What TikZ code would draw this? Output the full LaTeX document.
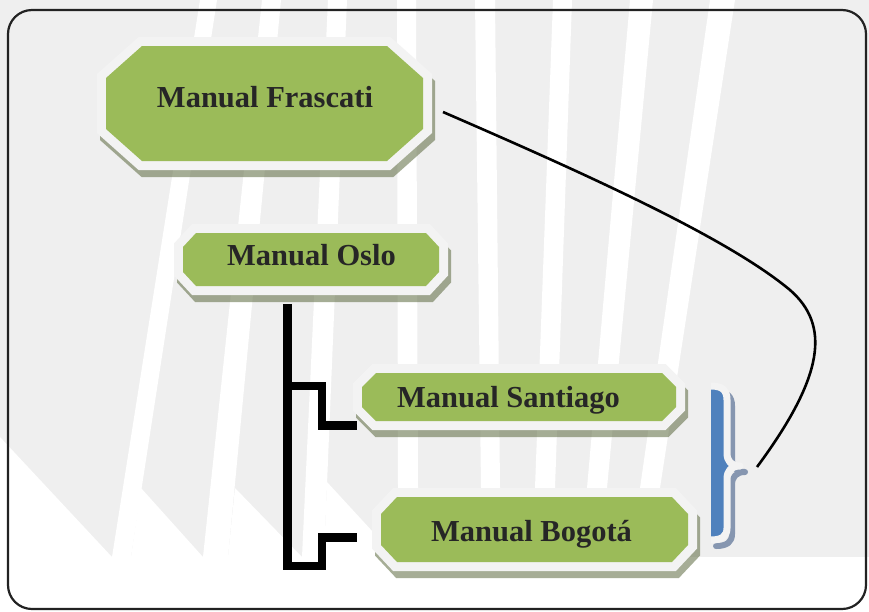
\documentclass[tikz,border=0pt]{standalone}
\usepackage{fontspec}
\setmainfont{Liberation Serif}
\usetikzlibrary{calc}

\definecolor{bggray}{HTML}{EFEFEF}
\definecolor{boxgreen}{HTML}{9BBB59}
\definecolor{boxrim}{HTML}{F3F3F3}
\definecolor{boxshade}{RGB}{92,106,63}
\definecolor{framecol}{HTML}{222222}
\definecolor{bracefill}{HTML}{4F81BD}
\definecolor{braceshade}{HTML}{8696B0}
\definecolor{labelcol}{HTML}{262626}

% octagon: centre x, centre y, half width, half height, chamfer x, chamfer y
\newcommand\octagon[6]{({#1-#3+#5},{#2-#4}) -- ({#1+#3-#5},{#2-#4}) -- ({#1+#3},{#2-#4+#6}) -- ({#1+#3},{#2+#4-#6}) -- ({#1+#3-#5},{#2+#4}) -- ({#1-#3+#5},{#2+#4}) -- ({#1-#3},{#2+#4-#6}) -- ({#1-#3},{#2-#4+#6}) -- cycle}

% one chamfered box: shadow, light rim, green face
\newcommand\chambox[6]{%
  \path[boxshadow] \octagon{#1}{#2}{#3}{#4}{#5}{#6};
  \path[boxrimstyle] \octagon{#1}{#2}{#3}{#4}{#5}{#6};
  \path[fill=boxgreen] \octagon{#1}{#2}{#3}{#4}{#5}{#6};
}

% right brace outline
\newcommand\bracepath{(711,386) .. controls (722,386) and (727,390) .. (727,400) -- (727,453) .. controls (727,461) and (731,466) .. (740,466) .. controls (731,466) and (727,471) .. (727,479) -- (727,528) .. controls (727,536) and (722,540) .. (711,540)}

\tikzset{
  boxshadow/.style={draw=boxshade, draw opacity=.55, line width=18pt, line join=miter,
    transform canvas={xshift=3pt,yshift=-7pt}},
  boxrimstyle/.style={draw=boxrim, fill=boxrim, line width=18pt, line join=miter},
  boxlabel/.style={font=\fontsize{30.5}{35}\selectfont\bfseries, text=labelcol,
    inner sep=0pt, text height=20pt, text depth=0pt},
  elbow/.style={draw=black, line width=8.5pt, line join=miter, line cap=butt},
  link/.style={draw=black, line width=2.6pt},
  framestyle/.style={draw=framecol, line width=2.2pt, rounded corners=24pt},
}

\begin{document}
\begin{tikzpicture}[x=1pt,y=-1pt]
\useasboundingbox (0,0) rectangle (869,611);

% backdrop: grey field with light slanted bands and a saw-tooth lower edge
\fill[bggray] (0,0) rectangle (869,557);
\fill[white] (200,0) -- (217,0) -- (131,557) -- (112,557) -- cycle;
\fill[white] (262,0) -- (281,0) -- (228,557) -- (203,557) -- cycle;
\fill[white] (328,0) -- (347,0) -- (324,557) -- (302,557) -- cycle;
\fill[white] (397,0) -- (416,0) -- (418,488) -- (398,488) -- cycle;
\fill[white] (475,0) -- (495,0) -- (500,488) -- (481,488) -- cycle;
\fill[white] (553,0) -- (572,0) -- (555,488) -- (535,488) -- cycle;
\fill[white] (630,0) -- (653,0) -- (607,488) -- (587,488) -- cycle;
\fill[white] (710,0) -- (735,0) -- (660,488) -- (640,488) -- cycle;
\fill[white] (0,437) -- (112,557) -- (0,557) -- cycle;
\fill[white] (141,488) -- (203,557) -- (131,557) -- cycle;
\fill[white] (235,488) -- (302,557) -- (228,557) -- cycle;
\fill[white] (327,482) -- (396,557) -- (324,557) -- cycle;

% outer frame
\draw[framestyle] (8,10) rectangle (866,609);

% boxes
\chambox{264.5}{103.5}{158.5}{57.5}{36}{32}
\chambox{311}{259.5}{128}{26.5}{13}{14}
\chambox{519}{397}{157}{24}{14}{14}
\chambox{534.5}{529.5}{153.5}{32.5}{16}{17}

\node[boxlabel] (frascati) at (265,97)   {Manual Frascati};
\node[boxlabel] (oslo)     at (311.5,255) {Manual Oslo};
\node[boxlabel] (santiago) at (508.5,397) {Manual Santiago};
\node[boxlabel] (bogota)   at (531.5,531) {Manual Bogotá};

% elbow connectors from Oslo
\coordinate (osloOut) at ($(oslo)+(-24,49)$);
\coordinate (santJoint) at (322,386);
\coordinate (santIn) at (357,425.5);
\coordinate (bogJoint) at (322,566);
\coordinate (bogIn) at (357,537.5);
\draw[elbow] (osloOut) |- (santJoint) |- (santIn);
\draw[elbow] (osloOut) |- (bogJoint) |- (bogIn);

% brace grouping Santiago and Bogota
\draw[braceshade, line width=6pt, line cap=round, line join=round,
      transform canvas={xshift=5pt,yshift=-6pt}] \bracepath;
\fill[bracefill] \bracepath -- cycle;
\draw[boxrim, line width=7pt, line cap=butt, line join=round] \bracepath;
\coordinate (braceTip) at (757,467);

% curved link from Frascati to the brace
\draw[link] ($(frascati)+(178,15)$) .. controls (600,180) and (730,240) .. (790,290)
  .. controls (830,325) and (825,375) .. (braceTip);
\end{tikzpicture}
\end{document}
